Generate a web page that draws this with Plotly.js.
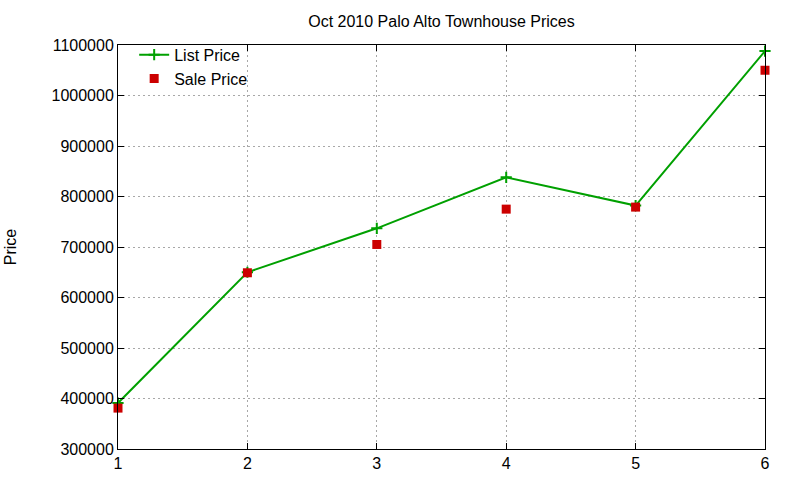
<!DOCTYPE html>
<html>
<head>
<meta charset="utf-8">
<script src="https://cdn.plot.ly/plotly-3.0.1.min.js"></script>
<style>
  html, body { margin: 0; padding: 0; background: #fff; }
  #chart { width: 800px; height: 480px; }
</style>
</head>
<body>
<div id="chart"></div>
<script>
var months = [1, 2, 3, 4, 5, 6];
var listPrice = [391000, 650000, 737000, 838000, 782000, 1088000];
var salePrice = [381000, 649000, 705000, 775000, 779000, 1050000];
var yTicks = [300000, 400000, 500000, 600000, 700000, 800000, 900000, 1000000, 1100000];

var font = { family: 'Liberation Sans, Arial, sans-serif', size: 16, color: '#000' };

var trace1 = {
    x: months,
    y: listPrice,
    name: 'List Price',
    type: 'scatter',
    mode: 'lines+markers',
    line: { color: '#00a000', width: 2 },
    marker: { symbol: 'cross-thin-open', size: 8, color: '#00a000', line: { color: '#00a000', width: 2 } },
    cliponaxis: false
};

var trace2 = {
    x: months,
    y: salePrice,
    name: 'Sale Price',
    type: 'scatter',
    mode: 'markers',
    marker: { symbol: 'square', size: 9, color: '#cc0000' },
    cliponaxis: false
};

var layout = {
    width: 800,
    height: 480,
    font: font,
    paper_bgcolor: '#fff',
    plot_bgcolor: '#fff',
    title: { text: 'Oct 2010 Palo Alto Townhouse Prices', font: font, x: 0.5, xref: 'paper', y: 0.956, yanchor: 'middle' },
    showlegend: true,
    legend: { x: 0.025, y: 1.018, xanchor: 'left', yanchor: 'top', bgcolor: 'rgba(0,0,0,0)', font: font, tracegroupgap: 0 },
    margin: { l: 118, r: 35, t: 45, b: 31 },
    xaxis: {
        range: [1, 6],
        tickvals: months,
        ticks: 'inside',
        ticklen: 6,
        tickcolor: '#000',
        showline: true,
        linecolor: '#000',
        linewidth: 1,
        mirror: 'ticks',
        showgrid: true,
        gridcolor: '#a8a8a8',
        griddash: '2px,3px',
        zeroline: false,
        tickfont: font
    },
    yaxis: {
        range: [300000, 1100000],
        tickvals: yTicks,
        tickformat: 'd',
        ticks: 'inside',
        ticklen: 6,
        tickcolor: '#000',
        showline: true,
        linecolor: '#000',
        linewidth: 1,
        mirror: 'ticks',
        showgrid: true,
        gridcolor: '#a8a8a8',
        griddash: '2px,3px',
        zeroline: false,
        tickfont: font,
        title: { text: 'Price', font: font, standoff: 30 }
    }
};

Plotly.newPlot('chart', [trace1, trace2], layout, { staticPlot: true });
</script>
</body>
</html>
